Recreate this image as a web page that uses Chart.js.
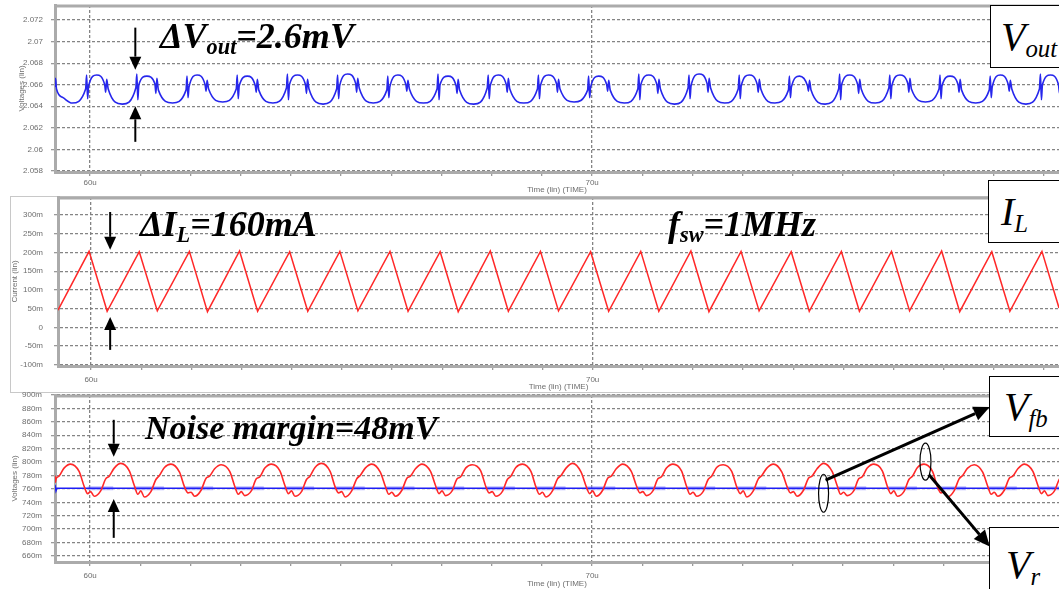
<!DOCTYPE html>
<html>
<head>
<meta charset="utf-8">
<script src="https://cdn.jsdelivr.net/npm/chart.js@4"></script>
<style>
  html, body { margin: 0; padding: 0; background: #fff; }
  #stage { position: relative; width: 1059px; height: 589px; overflow: hidden; background: #fff; }
  #stage canvas { position: absolute; left: 0; }
  .frame { position: absolute; left: 10px; top: 196px; width: 1070px; height: 195px; border: 1px solid #c8c8c8; border-right: none; }
  .note { position: absolute; font-family: "Liberation Serif", "Times New Roman", serif; font-weight: bold; font-style: italic;
          font-size: 36px; line-height: 1; white-space: nowrap; color: #000; }
  .note sub, .tag sub { font-size: 0.62em; vertical-align: -0.28em; line-height: 0; }
  .tag { position: absolute; background: #fff; border: 1px solid #000; box-sizing: border-box;
         font-family: "Liberation Serif", "Times New Roman", serif; font-style: italic; font-size: 40px; line-height: 1;
         display: flex; align-items: center; padding-left: 10px; white-space: nowrap; color: #000; }
</style>
</head>
<body>
<div id="stage">
  <div class="frame"></div>
  <canvas id="voutChart" width="1059" height="196" style="top:0px"></canvas>
  <canvas id="ilChart" width="1059" height="200" style="top:192px"></canvas>
  <canvas id="fbChart" width="1059" height="197" style="top:392px"></canvas>

  <div class="note" style="left:160px;top:18px">ΔV<sub>out</sub>=2.6mV</div>
  <div class="note" style="left:140px;top:206px">ΔI<sub>L</sub>=160mA</div>
  <div class="note" style="left:668px;top:206px">f<sub>sw</sub>=1MHz</div>
  <div class="note" style="left:145px;top:411px;font-size:34px">Noise margin=48mV</div>

  <div class="tag" style="left:990px;top:5px;width:80px;height:63px"><span>V<sub>out</sub></span></div>
  <div class="tag" style="left:988px;top:180px;width:82px;height:63px;padding-left:12px"><span>I<sub>L</sub></span></div>
  <div class="tag" style="left:989px;top:376px;width:81px;height:61px;padding-left:14px"><span>V<sub>fb</sub></span></div>
  <div class="tag" style="left:989px;top:527px;width:81px;height:75px;padding-left:16px"><span>V<sub>r</sub></span></div>
</div>

<script>
// ---- time axis (µs) ----
const timeTicks = [60, 61, 62, 63, 64, 65, 66, 67, 68, 69, 70, 71, 72, 73, 74, 75, 76, 77, 78, 79];
const majorTimes = [60, 70];
const majorTimeLabels = ['60u', '70u'];

// ---- output voltage (V) ----
const voutTicks = [2.058, 2.060, 2.062, 2.064, 2.066, 2.068, 2.070, 2.072];
const voutTickLabels = ['2.058', '2.06', '2.062', '2.064', '2.066', '2.068', '2.07', '2.072'];
const voutTime = [
  59.30, 59.31, 59.33, 59.46,
  59.64, 59.91, 59.93, 59.95, 59.97, 60.13, 60.29, 60.31, 60.33, 60.36,
  60.64, 60.91, 60.93, 60.95, 60.97, 61.13, 61.29, 61.31, 61.33, 61.36,
  61.64, 61.91, 61.93, 61.95, 61.97, 62.13, 62.29, 62.31, 62.33, 62.36,
  62.64, 62.91, 62.93, 62.95, 62.97, 63.13, 63.29, 63.31, 63.33, 63.36,
  63.64, 63.91, 63.93, 63.95, 63.97, 64.13, 64.29, 64.31, 64.33, 64.36,
  64.64, 64.91, 64.93, 64.95, 64.97, 65.13, 65.29, 65.31, 65.33, 65.36,
  65.64, 65.91, 65.93, 65.95, 65.97, 66.13, 66.29, 66.31, 66.33, 66.36,
  66.64, 66.91, 66.93, 66.95, 66.97, 67.13, 67.29, 67.31, 67.33, 67.36,
  67.64, 67.91, 67.93, 67.95, 67.97, 68.13, 68.29, 68.31, 68.33, 68.36,
  68.64, 68.91, 68.93, 68.95, 68.97, 69.13, 69.29, 69.31, 69.33, 69.36,
  69.64, 69.91, 69.93, 69.95, 69.97, 70.13, 70.29, 70.31, 70.33, 70.36,
  70.64, 70.91, 70.93, 70.95, 70.97, 71.13, 71.29, 71.31, 71.33, 71.36,
  71.64, 71.91, 71.93, 71.95, 71.97, 72.13, 72.29, 72.31, 72.33, 72.36,
  72.64, 72.91, 72.93, 72.95, 72.97, 73.13, 73.29, 73.31, 73.33, 73.36,
  73.64, 73.91, 73.93, 73.95, 73.97, 74.13, 74.29, 74.31, 74.33, 74.36,
  74.64, 74.91, 74.93, 74.95, 74.97, 75.13, 75.29, 75.31, 75.33, 75.36,
  75.64, 75.91, 75.93, 75.95, 75.97, 76.13, 76.29, 76.31, 76.33, 76.36,
  76.64, 76.91, 76.93, 76.95, 76.97, 77.13, 77.29, 77.31, 77.33, 77.36,
  77.64, 77.91, 77.93, 77.95, 77.97, 78.13, 78.29, 78.31, 78.33, 78.36,
  78.64, 78.91, 78.93, 78.95, 78.97, 79.13, 79.29, 79.31, 79.33, 79.36
];
const voutValue = [
  2.0658, 2.0666, 2.0656, 2.0648,
  2.0643, 2.0656, 2.0669, 2.0647, 2.0659, 2.0669, 2.0660, 2.0653, 2.0665, 2.0656,
  2.0642, 2.0657, 2.0670, 2.0646, 2.0660, 2.0668, 2.0661, 2.0652, 2.0666, 2.0655,
  2.0643, 2.0655, 2.0668, 2.0648, 2.0658, 2.0669, 2.0660, 2.0654, 2.0664, 2.0656,
  2.0644, 2.0656, 2.0669, 2.0647, 2.0659, 2.0668, 2.0659, 2.0653, 2.0665, 2.0655,
  2.0643, 2.0657, 2.0670, 2.0646, 2.0660, 2.0669, 2.0660, 2.0652, 2.0665, 2.0656,
  2.0642, 2.0656, 2.0669, 2.0647, 2.0659, 2.0670, 2.0661, 2.0653, 2.0666, 2.0657,
  2.0643, 2.0655, 2.0668, 2.0648, 2.0658, 2.0669, 2.0660, 2.0654, 2.0664, 2.0656,
  2.0643, 2.0656, 2.0670, 2.0646, 2.0660, 2.0668, 2.0659, 2.0652, 2.0665, 2.0655,
  2.0642, 2.0657, 2.0669, 2.0647, 2.0659, 2.0669, 2.0660, 2.0653, 2.0666, 2.0656,
  2.0643, 2.0656, 2.0669, 2.0647, 2.0659, 2.0669, 2.0661, 2.0653, 2.0665, 2.0656,
  2.0644, 2.0655, 2.0668, 2.0648, 2.0658, 2.0668, 2.0660, 2.0654, 2.0664, 2.0655,
  2.0643, 2.0656, 2.0670, 2.0646, 2.0660, 2.0669, 2.0660, 2.0652, 2.0665, 2.0656,
  2.0642, 2.0657, 2.0669, 2.0647, 2.0659, 2.0670, 2.0661, 2.0653, 2.0666, 2.0657,
  2.0643, 2.0656, 2.0669, 2.0647, 2.0659, 2.0669, 2.0660, 2.0653, 2.0665, 2.0656,
  2.0643, 2.0655, 2.0668, 2.0648, 2.0658, 2.0668, 2.0659, 2.0654, 2.0664, 2.0655,
  2.0642, 2.0656, 2.0670, 2.0646, 2.0660, 2.0669, 2.0660, 2.0652, 2.0665, 2.0656,
  2.0643, 2.0657, 2.0669, 2.0647, 2.0659, 2.0669, 2.0661, 2.0653, 2.0666, 2.0656,
  2.0644, 2.0656, 2.0669, 2.0647, 2.0659, 2.0668, 2.0660, 2.0653, 2.0665, 2.0655,
  2.0643, 2.0655, 2.0668, 2.0648, 2.0658, 2.0669, 2.0660, 2.0654, 2.0664, 2.0656,
  2.0642, 2.0656, 2.0670, 2.0646, 2.0660, 2.0669, 2.0660, 2.0652, 2.0665, 2.0656
];

// ---- inductor current (mA) ----
const ilTicks = [-100, -50, 0, 50, 100, 150, 200, 250, 300];
const ilTickLabels = ['-100m', '-50m', '0', '50m', '100m', '150m', '200m', '250m', '300m'];
const ilTime = [
  59.34,
  59.96, 60.32, 60.96, 61.32, 61.96, 62.32, 62.96, 63.32, 63.96, 64.32,
  64.96, 65.32, 65.96, 66.32, 66.96, 67.32, 67.96, 68.32, 68.96, 69.32,
  69.96, 70.32, 70.96, 71.32, 71.96, 72.32, 72.96, 73.32, 73.96, 74.32,
  74.96, 75.32, 75.96, 76.32, 76.96, 77.32, 77.96, 78.32, 78.96,
  79.30
];
const ilValue = [
  46,
  203, 43, 202, 44, 203, 42, 204, 43, 202, 43,
  203, 44, 203, 43, 202, 42, 204, 43, 203, 44,
  202, 43, 203, 43, 204, 42, 203, 44, 202, 43,
  203, 43, 203, 44, 204, 42, 202, 43, 203,
  52
];

// ---- feedback / ramp comparator inputs (mV) ----
const fbTicks = [660, 680, 700, 720, 740, 760, 780, 800, 820, 840, 860, 880, 900];
const fbTickLabels = ['660m', '680m', '700m', '720m', '740m', '760m', '780m', '800m', '820m', '840m', '860m', '880m', '900m'];
const rippleTime = [
  59.30, 59.31, 59.32, 59.38, 59.48,
  59.61, 59.78, 59.88, 59.95, 60.01, 60.08, 60.21, 60.31, 60.38, 60.48,
  60.61, 60.78, 60.88, 60.95, 61.01, 61.08, 61.21, 61.31, 61.38, 61.48,
  61.61, 61.78, 61.88, 61.95, 62.01, 62.08, 62.21, 62.31, 62.38, 62.48,
  62.61, 62.78, 62.88, 62.95, 63.01, 63.08, 63.21, 63.31, 63.38, 63.48,
  63.61, 63.78, 63.88, 63.95, 64.01, 64.08, 64.21, 64.31, 64.38, 64.48,
  64.61, 64.78, 64.88, 64.95, 65.01, 65.08, 65.21, 65.31, 65.38, 65.48,
  65.61, 65.78, 65.88, 65.95, 66.01, 66.08, 66.21, 66.31, 66.38, 66.48,
  66.61, 66.78, 66.88, 66.95, 67.01, 67.08, 67.21, 67.31, 67.38, 67.48,
  67.61, 67.78, 67.88, 67.95, 68.01, 68.08, 68.21, 68.31, 68.38, 68.48,
  68.61, 68.78, 68.88, 68.95, 69.01, 69.08, 69.21, 69.31, 69.38, 69.48,
  69.61, 69.78, 69.88, 69.95, 70.01, 70.08, 70.21, 70.31, 70.38, 70.48,
  70.61, 70.78, 70.88, 70.95, 71.01, 71.08, 71.21, 71.31, 71.38, 71.48,
  71.61, 71.78, 71.88, 71.95, 72.01, 72.08, 72.21, 72.31, 72.38, 72.48,
  72.61, 72.78, 72.88, 72.95, 73.01, 73.08, 73.21, 73.31, 73.38, 73.48,
  73.61, 73.78, 73.88, 73.95, 74.01, 74.08, 74.21, 74.31, 74.38, 74.48,
  74.61, 74.78, 74.88, 74.95, 75.01, 75.08, 75.21, 75.31, 75.38, 75.48,
  75.61, 75.78, 75.88, 75.95, 76.01, 76.08, 76.21, 76.31, 76.38, 76.48,
  76.61, 76.78, 76.88, 76.95, 77.01, 77.08, 77.21, 77.31, 77.38, 77.48,
  77.61, 77.78, 77.88, 77.95, 78.01, 78.08, 78.21, 78.31, 78.38, 78.48,
  78.61, 78.78, 78.88, 78.95, 79.01, 79.08, 79.21, 79.31, 79.38, 79.48
];
const rippleValue = [
  780, 770, 775, 779, 791,
  797, 786, 764, 753, 756, 749, 757, 775, 779, 791,
  798, 787, 765, 752, 757, 748, 756, 774, 780, 792,
  797, 785, 763, 754, 755, 749, 758, 776, 779, 790,
  796, 786, 764, 752, 756, 750, 757, 775, 778, 791,
  797, 787, 765, 753, 757, 749, 756, 774, 779, 792,
  798, 786, 763, 754, 756, 748, 757, 775, 780, 791,
  797, 785, 764, 752, 755, 749, 758, 776, 779, 790,
  797, 786, 765, 753, 757, 750, 757, 775, 778, 791,
  796, 787, 764, 754, 756, 749, 756, 774, 779, 792,
  797, 786, 763, 752, 755, 748, 757, 775, 780, 791,
  798, 785, 764, 753, 757, 749, 758, 776, 779, 790,
  797, 786, 765, 754, 756, 750, 757, 775, 778, 791,
  797, 787, 764, 752, 755, 749, 756, 774, 779, 792,
  796, 786, 763, 753, 757, 748, 757, 775, 780, 791,
  797, 785, 764, 754, 756, 749, 758, 776, 779, 790,
  798, 786, 765, 752, 755, 750, 757, 775, 778, 791,
  797, 787, 764, 753, 757, 749, 756, 774, 779, 792,
  797, 786, 763, 754, 756, 748, 757, 775, 780, 791,
  796, 785, 764, 752, 755, 749, 758, 776, 779, 790,
  797, 786, 765, 753, 757, 750, 757, 775, 779, 791
];
const levelTime = [59.30, 59.32, 59.34, 79.30];
const levelValue = [766, 757, 761, 761];
const levelBandStart = [59.95, 60.87, 61.87, 62.88, 63.87, 64.87, 65.88, 66.87, 67.87, 68.88,
                        69.87, 70.87, 71.88, 72.87, 73.87, 74.88, 75.87, 76.87, 77.88, 78.87];
const levelBandEnd = [60.46, 61.47, 62.45, 63.46, 64.46, 65.47, 66.46, 67.45, 68.46, 69.47,
                      70.46, 71.46, 72.45, 73.47, 74.46, 75.46, 76.47, 77.45, 78.46, 79.30];
const levelBandValue = 761;

// ---- drawing helpers ----
Chart.defaults.font.family = '"Liberation Sans", Arial, sans-serif';
const gridGray = 'rgba(125,125,125,0.95)';
const axisGray = '#ababab';
const labelGray = '#6e6e6e';

const pairs = (xs, ys) => xs.map((x, i) => ({ x: x, y: ys[i] }));

function drawArrow(ctx, x1, y1, x2, y2, w, head) {
  const a = Math.atan2(y2 - y1, x2 - x1);
  const hw = head * 0.46;
  const bx = x2 - head * Math.cos(a), by = y2 - head * Math.sin(a);
  ctx.strokeStyle = '#000';
  ctx.lineWidth = w;
  ctx.beginPath(); ctx.moveTo(x1, y1); ctx.lineTo(bx, by); ctx.stroke();
  ctx.fillStyle = '#000';
  ctx.beginPath();
  ctx.moveTo(x2, y2);
  ctx.lineTo(bx + hw * Math.sin(a), by - hw * Math.cos(a));
  ctx.lineTo(bx - hw * Math.sin(a), by + hw * Math.cos(a));
  ctx.closePath(); ctx.fill();
}

// top edge of the plot frame
const topEdge = {
  id: 'topEdge',
  afterDraw(chart) {
    const { ctx, chartArea: a } = chart;
    ctx.save();
    ctx.strokeStyle = axisGray; ctx.lineWidth = 3;
    ctx.beginPath(); ctx.moveTo(a.left, a.top + 1); ctx.lineTo(a.right, a.top + 1); ctx.stroke();
    ctx.restore();
  }
};

// arrows and rings placed in data coordinates
function callouts(spec) {
  return {
    id: 'callouts',
    afterDraw(chart) {
      const { ctx, scales: { x, y } } = chart;
      ctx.save();
      (spec.arrows || []).forEach(a => {
        drawArrow(ctx, x.getPixelForValue(a.from[0]), y.getPixelForValue(a.from[1]),
                       x.getPixelForValue(a.to[0]), y.getPixelForValue(a.to[1]), a.w, a.head);
      });
      (spec.rings || []).forEach(r => {
        ctx.beginPath();
        ctx.ellipse(x.getPixelForValue(r.at[0]), y.getPixelForValue(r.at[1]), r.rx, r.ry, 0, 0, Math.PI * 2);
        ctx.lineWidth = 1.2; ctx.strokeStyle = '#000'; ctx.stroke();
      });
      ctx.restore();
    }
  };
}

function panel(id, p) {
  return new Chart(document.getElementById(id), {
    type: 'line',
    data: { datasets: p.datasets },
    plugins: [topEdge, callouts(p.callouts)],
    options: {
      responsive: false, animation: false, devicePixelRatio: 1,
      events: [],
      layout: { padding: { top: p.padTop, right: 0, bottom: 0, left: 0 } },
      elements: { point: { radius: 0 }, line: { borderWidth: 1.5, fill: false } },
      plugins: { legend: { display: false }, tooltip: { enabled: false } },
      scales: {
        x: {
          type: 'linear', min: p.xMin, max: 79.3,
          afterBuildTicks: s => { s.ticks = timeTicks.map(v => ({ value: v })); },
          afterFit: s => { s.height = p.xHeight; s.paddingLeft = 0; s.paddingRight = 0; },
          ticks: {
            autoSkip: false, maxRotation: 0, padding: p.xPad, color: labelGray, font: { size: 8 },
            callback: v => { const i = majorTimes.indexOf(v); return i >= 0 ? majorTimeLabels[i] : ''; }
          },
          grid: {
            color: c => (c.tick && majorTimes.indexOf(c.tick.value) >= 0) ? gridGray : 'rgba(0,0,0,0)',
            lineWidth: 1.3, tickColor: '#9a9a9a', tickLength: 4
          },
          border: { color: axisGray, width: 3, dash: [3, 2] },
          title: { display: true, text: 'Time (lin) (TIME)', color: labelGray, font: { size: 8 },
                   padding: { top: 0, bottom: p.xTitlePad } }
        },
        y: {
          type: 'linear', min: p.yMin, max: p.yMax,
          afterBuildTicks: s => { s.ticks = p.yTicks.map(v => ({ value: v })); },
          afterFit: s => { s.width = p.yWidth; s.paddingTop = 0; s.paddingBottom = 0; },
          ticks: { padding: p.yPad, color: labelGray, font: { size: 8 }, callback: (v, i) => p.yLabels[i] },
          grid: { color: gridGray, lineWidth: 1.3, tickColor: '#9a9a9a', tickLength: 4 },
          border: { color: axisGray, width: 3, dash: [3, 2] },
          title: { display: true, text: p.yTitle, color: labelGray, font: { size: 8 },
                   padding: { top: p.yTitlePad, bottom: 0 } }
        }
      }
    }
  });
}

// Vout ripple
panel('voutChart', {
  padTop: 5, xHeight: 24, xPad: 2, xTitlePad: 1, xMin: 59.3,
  yMin: 2.0579, yMax: 2.0734, yTicks: voutTicks, yLabels: voutTickLabels,
  yWidth: 55, yPad: 8, yTitle: 'Voltages (lin)', yTitlePad: 17,
  datasets: [{
    label: 'Vout', data: pairs(voutTime, voutValue),
    borderColor: 'rgb(38,38,236)', borderWidth: 1.6, cubicInterpolationMode: 'monotone'
  }],
  callouts: {
    arrows: [
      { from: [60.9, 2.0713], to: [60.9, 2.0674], w: 2, head: 13 },
      { from: [60.9, 2.0607], to: [60.9, 2.0640], w: 2, head: 13 }
    ]
  }
});

// Inductor current
panel('ilChart', {
  padTop: 5, xHeight: 26, xPad: 5, xTitlePad: 0, xMin: 59.34,
  yMin: -103, yMax: 348, yTicks: ilTicks, yLabels: ilTickLabels,
  yWidth: 58, yPad: 11, yTitle: 'Current (lin)', yTitlePad: 10,
  datasets: [{
    label: 'IL', data: pairs(ilTime, ilValue),
    borderColor: 'rgb(255,40,40)', borderWidth: 1.5, tension: 0
  }],
  callouts: {
    arrows: [
      { from: [60.38, 308], to: [60.38, 207], w: 2, head: 13 },
      { from: [60.38, -60], to: [60.38, 28], w: 2, head: 13 }
    ]
  }
});

// Comparator inputs
const bandData = [];
levelBandStart.forEach((t, i) => {
  bandData.push({ x: t, y: levelBandValue }, { x: levelBandEnd[i], y: levelBandValue }, { x: levelBandEnd[i] + 0.01, y: null });
});
panel('fbChart', {
  padTop: 3, xHeight: 27, xPad: 5, xTitlePad: 0, xMin: 59.3,
  yMin: 651, yMax: 900, yTicks: fbTicks, yLabels: fbTickLabels,
  yWidth: 55, yPad: 9, yTitle: 'Voltages (lin)', yTitlePad: 10,
  datasets: [
    { label: 'ripple', data: pairs(rippleTime, rippleValue),
      borderColor: 'rgb(255,40,40)', borderWidth: 1.6, cubicInterpolationMode: 'monotone' },
    { label: 'level', data: pairs(levelTime, levelValue),
      borderColor: 'rgb(30,30,245)', borderWidth: 1.5, tension: 0 },
    { label: 'level band', data: bandData, spanGaps: false,
      borderColor: 'rgba(110,110,255,0.45)', borderWidth: 4, tension: 0 }
  ],
  callouts: {
    arrows: [
      { from: [60.47, 863], to: [60.47, 808], w: 2, head: 13 },
      { from: [60.47, 687], to: [60.47, 745], w: 2, head: 13 },
      { from: [74.65, 773], to: [77.92, 882], w: 3, head: 16 },
      { from: [76.71, 781], to: [77.92, 674], w: 3, head: 16 }
    ],
    rings: [
      { at: [74.61, 753.5], rx: 5, ry: 19 },
      { at: [76.64, 800.6], rx: 5.5, ry: 18.5 }
    ]
  }
});
</script>
</body>
</html>
